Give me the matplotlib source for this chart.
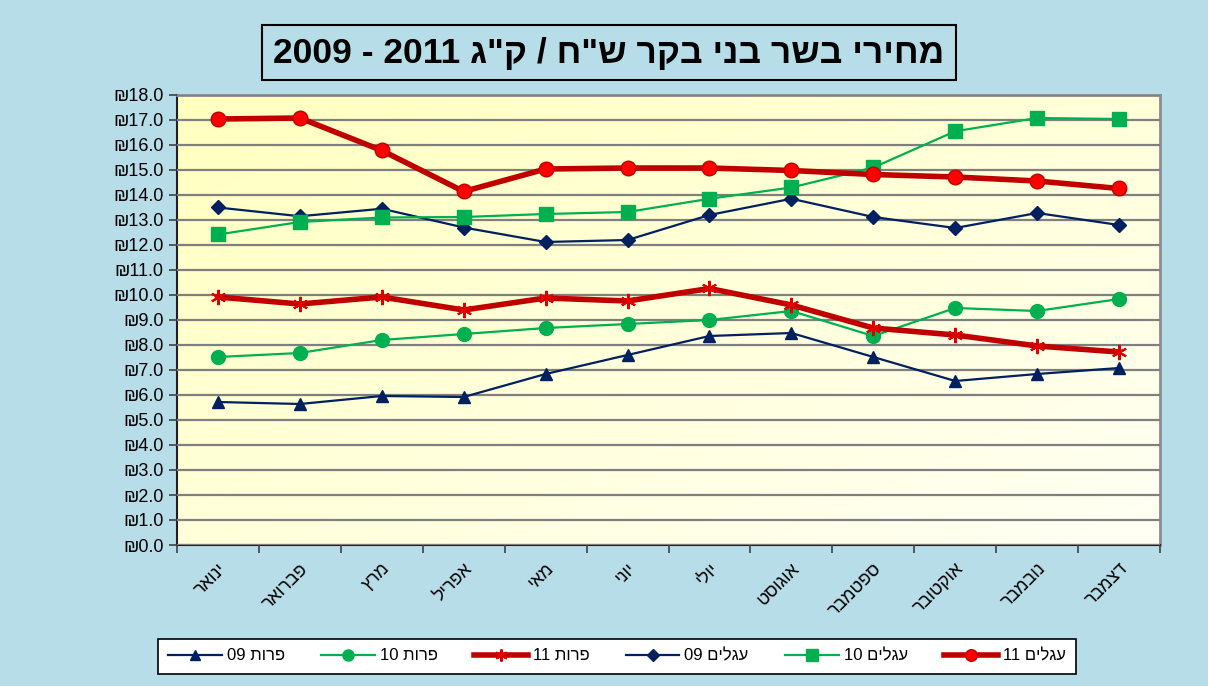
import re
import numpy as np
import matplotlib
import matplotlib.pyplot as plt
from matplotlib.patches import Rectangle

matplotlib.use('Agg')

plt.rcParams['font.family'] = ['Liberation Sans', 'DejaVu Sans']

months = ['ינואר', 'פברואר', 'מרץ', 'אפריל', 'מאי', 'יוני', 'יולי', 'אוגוסט',
          'ספטמבר', 'אוקטובר', 'נובמבר', 'דצמבר']

cows_09 = [5.72, 5.64, 5.96, 5.92, 6.84, 7.60, 8.36, 8.48, 7.52, 6.56, 6.84, 7.08]
cows_10 = [7.52, 7.68, 8.20, 8.44, 8.68, 8.84, 9.00, 9.36, 8.36, 9.48, 9.36, 9.84]
cows_11 = [9.92, 9.64, 9.92, 9.40, 9.88, 9.76, 10.26, 9.60, 8.68, 8.40, 7.96, 7.72]
calves_09 = [13.50, 13.15, 13.45, 12.70, 12.12, 12.20, 13.20, 13.85, 13.12, 12.68, 13.28, 12.80]
calves_10 = [12.42, 12.92, 13.10, 13.12, 13.24, 13.32, 13.85, 14.30, 15.10, 16.55, 17.08, 17.04]
calves_11 = [17.04, 17.08, 15.78, 14.14, 15.04, 15.08, 15.08, 14.98, 14.82, 14.72, 14.56, 14.26]

labels = ['פרות 09', 'פרות 10', 'פרות 11', 'עגלים 09', 'עגלים 10', 'עגלים 11']
title = 'מחירי בשר בני בקר ש"ח / ק"ג 2011 - 2009'


def heb(s):
    # no bidi support in matplotlib: flip the string, keep number runs in order
    r = s[::-1]
    return re.sub(r'[0-9.]+', lambda m: m.group(0)[::-1], r)


BG = '#b7dde8'
NAVY = '#002060'
GREEN = '#00b050'
DRED = '#c00000'

fig = plt.figure(figsize=(12.08, 6.86), dpi=100, facecolor=BG)
ax = fig.add_axes([177 / 1208, 1 - 545 / 686, 983 / 1208, 450 / 686])
ax.set_facecolor('white')

# yellow gradient backdrop (top-left yellow -> bottom-right near white)
gx, gy = np.meshgrid(np.linspace(0, 1, 200), np.linspace(0, 1, 200))
t = np.clip((gx + gy) / 2, 0, 1)
c0 = np.array([1.0, 1.0, 0.75])
c1 = np.array([1.0, 1.0, 0.96])
img = c0[None, None, :] * (1 - t[..., None]) + c1[None, None, :] * t[..., None]
ax.imshow(img, extent=[0, 1, 0, 1], transform=ax.transAxes, aspect='auto', zorder=0, origin='upper')

x = np.arange(len(months))
styles = [
    (cows_09, dict(color=NAVY, lw=1.6, marker='^', ms=9, mfc=NAVY, mec=NAVY)),
    (cows_10, dict(color=GREEN, lw=1.6, marker='o', ms=10, mfc=GREEN, mec=GREEN)),
    (cows_11, dict(color=DRED, lw=4, marker=(6, 2, 0), ms=11, mec='#e00000', mew=1.5)),
    (calves_09, dict(color=NAVY, lw=1.6, marker='D', ms=7.5, mfc=NAVY, mec=NAVY)),
    (calves_10, dict(color=GREEN, lw=1.6, marker='s', ms=10, mfc=GREEN, mec=GREEN)),
    (calves_11, dict(color=DRED, lw=4, marker='o', ms=10.5, mfc='#ff0000', mec=DRED, mew=1)),
]
handles = []
for (vals, st), lab in zip(styles, labels):
    h, = ax.plot(x, vals, label=heb(lab), zorder=3, **st)
    handles.append(h)

ax.set_xlim(-0.5, 11.5)
ax.set_ylim(0, 18)
ax.set_yticks(np.arange(0, 19, 1))
ax.set_yticklabels(['₪%.1f' % v for v in np.arange(0, 19, 1)], fontsize=13)
ax.yaxis.grid(True, color='#7f7f7f', lw=1.6, zorder=1)
ax.set_axisbelow(False)

ax.set_xticks(x)
ax.set_xticklabels([heb(m) for m in months], rotation=45, ha='right',
                   rotation_mode='anchor', fontsize=13)
ax.tick_params(axis='x', which='major', length=0, pad=11)
ax.set_xticks(np.arange(-0.5, 12, 1), minor=True)
ax.tick_params(axis='x', which='minor', length=6, width=1.2, color='#404040', direction='out')
ax.tick_params(axis='y', length=6, width=1.2, color='#404040', direction='out')

for s in ['left', 'bottom']:
    ax.spines[s].set_color('#202020')
    ax.spines[s].set_linewidth(1.5)
for s in ['top', 'right']:
    ax.spines[s].set_color('#8c8c8c')
    ax.spines[s].set_linewidth(2)

# title in a box
fig.patches.append(Rectangle((262 / 1208, 1 - 80 / 686), 694 / 1208, 55 / 686,
                             transform=fig.transFigure, facecolor=BG,
                             edgecolor='black', lw=1.5))
fig.text(609 / 1208, 1 - 53 / 686, heb(title), ha='center', va='center',
         fontsize=25.5, fontweight='bold')

leg = fig.legend(handles=handles, loc='center', bbox_to_anchor=(617 / 1208, 1 - 656 / 686),
                 ncol=6, fontsize=12, frameon=True, fancybox=False, edgecolor='black',
                 facecolor='white', framealpha=1, handlelength=3.2, columnspacing=2.2,
                 handletextpad=0.3, borderpad=0.6, markerscale=0.8)
leg.get_frame().set_linewidth(1.2)

fig.savefig('out.png', dpi=100, facecolor=BG)
